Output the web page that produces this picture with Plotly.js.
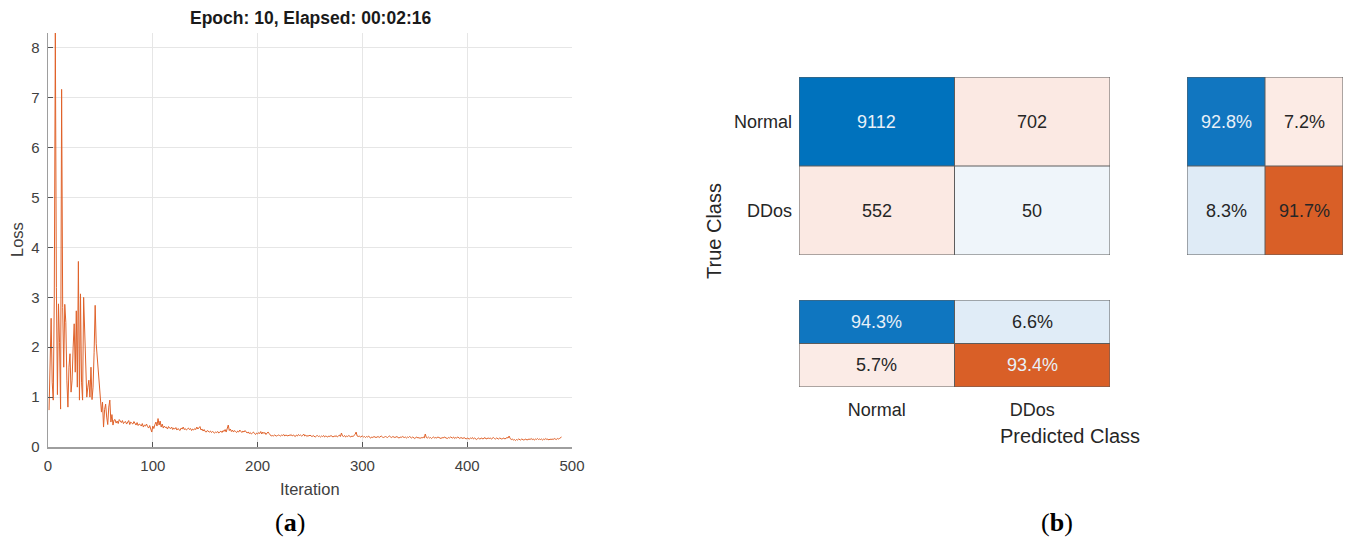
<!DOCTYPE html>
<html>
<head>
<meta charset="utf-8">
<script src="https://cdn.plot.ly/plotly-3.0.1.min.js"></script>
<style>html,body{margin:0;padding:0;background:#fff;}#chart{width:1346px;height:540px;}</style>
</head>
<body>
<div id="chart"></div>
<script>
// ---------- DATA ----------
const trainTitle = 'Epoch: 10, Elapsed: 00:02:16';
const xTicks = [0, 100, 200, 300, 400, 500];
const yTicks = [0, 1, 2, 3, 4, 5, 6, 7, 8];
// training loss, one value per iteration starting at iteration 1
const loss = [
0.74,1.9,2.58,1.3,0.94,3.0,8.3,3.2,1.05,2.87,
2.1,0.76,7.17,2.8,1.6,2.86,2.5,1.34,0.8,1.6,
1.87,1.1,1.34,2.0,2.47,1.5,2.73,1.2,3.72,0.94,
3.07,1.3,0.94,3.0,2.2,1.6,1.0,1.2,1.34,1.0,
1.6,0.95,1.2,1.9,2.84,2.07,1.8,1.47,1.2,1.03,
0.7,0.9,0.4,0.75,0.86,0.6,0.45,0.8,0.94,0.5,
0.65,0.44,0.54,0.55,0.48,0.52,0.47,0.55,0.52,0.49,
0.53,0.47,0.5,0.51,0.46,0.49,0.53,0.45,0.5,0.48,
0.46,0.51,0.47,0.44,0.49,0.43,0.46,0.45,0.42,0.47,
0.4,0.44,0.42,0.46,0.41,0.38,0.43,0.35,0.3,0.42,
0.37,0.45,0.5,0.42,0.57,0.44,0.52,0.4,0.46,0.38,
0.42,0.39,0.4,0.36,0.41,0.38,0.37,0.4,0.35,0.38,
0.36,0.39,0.34,0.37,0.35,0.33,0.38,0.36,0.4,0.35,
0.37,0.34,0.36,0.38,0.35,0.37,0.33,0.36,0.34,0.37,
0.35,0.4,0.36,0.38,0.41,0.34,0.36,0.32,0.35,0.31,
0.3,0.33,0.31,0.3,0.32,0.29,0.31,0.3,0.28,0.3,
0.29,0.31,0.28,0.3,0.32,0.29,0.33,0.31,0.35,0.3,
0.38,0.44,0.33,0.36,0.31,0.34,0.3,0.33,0.31,0.29,
0.32,0.3,0.34,0.31,0.29,0.32,0.3,0.33,0.31,0.28,
0.3,0.27,0.29,0.26,0.28,0.3,0.27,0.25,0.28,0.26,
0.29,0.27,0.31,0.26,0.3,0.27,0.29,0.25,0.28,0.3,
0.27,0.24,0.22,0.23,0.22,0.24,0.23,0.22,0.23,0.24,
0.23,0.22,0.24,0.23,0.25,0.22,0.24,0.23,0.22,0.24,
0.23,0.25,0.22,0.24,0.23,0.21,0.24,0.22,0.25,0.23,
0.24,0.22,0.23,0.26,0.22,0.24,0.21,0.23,0.22,0.24,
0.22,0.21,0.23,0.22,0.2,0.22,0.23,0.21,0.22,0.2,
0.22,0.21,0.23,0.2,0.22,0.21,0.2,0.22,0.21,0.23,
0.21,0.2,0.22,0.21,0.23,0.2,0.22,0.24,0.21,0.28,
0.22,0.21,0.23,0.2,0.22,0.21,0.23,0.22,0.2,0.22,
0.21,0.23,0.25,0.3,0.22,0.21,0.22,0.2,0.21,0.22,
0.2,0.21,0.19,0.21,0.2,0.22,0.19,0.18,0.2,0.19,
0.21,0.2,0.19,0.2,0.21,0.19,0.2,0.22,0.2,0.19,
0.2,0.21,0.2,0.19,0.21,0.22,0.2,0.19,0.21,0.2,
0.19,0.2,0.21,0.19,0.18,0.2,0.19,0.21,0.2,0.19,
0.2,0.18,0.2,0.19,0.21,0.19,0.18,0.2,0.19,0.17,
0.19,0.2,0.18,0.19,0.17,0.19,0.18,0.2,0.18,0.26,
0.19,0.18,0.2,0.18,0.19,0.17,0.19,0.2,0.18,0.19,
0.18,0.2,0.19,0.18,0.17,0.19,0.18,0.2,0.19,0.18,
0.17,0.19,0.18,0.2,0.19,0.18,0.2,0.17,0.19,0.18,
0.2,0.18,0.17,0.19,0.18,0.17,0.19,0.18,0.16,0.18,
0.17,0.16,0.18,0.17,0.19,0.16,0.18,0.17,0.15,0.17,
0.18,0.16,0.17,0.18,0.16,0.17,0.19,0.16,0.17,0.18,
0.17,0.18,0.16,0.17,0.19,0.17,0.16,0.18,0.17,0.16,
0.18,0.17,0.16,0.17,0.18,0.16,0.17,0.19,0.18,0.22,
0.17,0.15,0.16,0.14,0.15,0.13,0.15,0.14,0.16,0.15,
0.14,0.16,0.15,0.14,0.15,0.16,0.14,0.15,0.16,0.15,
0.17,0.15,0.16,0.14,0.16,0.15,0.17,0.15,0.16,0.15,
0.16,0.14,0.16,0.15,0.17,0.15,0.16,0.14,0.16,0.15,
0.16,0.15,0.17,0.16,0.15,0.17,0.16,0.17,0.18,0.2
];

const classes = ['Normal', 'DDos'];
const counts = [[9112, 702], [552, 50]];      // rows: true class, cols: predicted class
const rowPct = [[92.8, 7.2], [8.3, 91.7]];    // row summary
const colPct = [[94.3, 6.6], [5.7, 93.4]];    // column summary
const trueLabel = 'True Class';
const predLabel = 'Predicted Class';

// ---------- STYLE ----------
const W = 1346, H = 540;
const FONT = 'Liberation Sans, Arial, Helvetica, sans-serif';
const TXT = '#262626';
const LIGHT_TXT = '#e8f0f8';
const countColors = [['#0072BD', '#FBE9E3'], ['#FBE9E3', '#EFF5FA']];
const rowColors   = [['#1176C0', '#FCEBE5'], ['#DFEBF6', '#D95F27']];
const colColors   = [['#0F76C0', '#E0ECF7'], ['#FBEBE6', '#D95F27']];
const rowTextDark = [[false, true], [true, true]];
const countTextDark = [[false, true], [true, true]];
const colTextDark = [[false, true], [true, false]];

const px = x => x / W;
const py = y => 1 - y / H;

// ---------- TRACES ----------
const traces = [];
traces.push({
  type: 'scatter', mode: 'lines',
  x0: 1, dx: 1, y: loss,
  line: {color: '#E0622A', width: 1},
  xaxis: 'x', yaxis: 'y', hoverinfo: 'skip'
});

function flatScale(colors) {
  const flat = [colors[0][0], colors[0][1], colors[1][0], colors[1][1]];
  return flat.map((c, i) => [i / 3, c]);
}
const idx = [[0, 1], [2, 3]];
function addHeat(colors, xa, ya) {
  traces.push({
    type: 'heatmap', z: idx, x: [0, 1], y: [0, 1],
    colorscale: flatScale(colors), zmin: 0, zmax: 3,
    showscale: false, xaxis: xa, yaxis: ya, hoverinfo: 'skip'
  });
}
addHeat(countColors, 'x2', 'y2');
addHeat(rowColors, 'x3', 'y3');
addHeat(colColors, 'x4', 'y4');

// ---------- ANNOTATIONS ----------
const annotations = [];
function cellText(vals, fmt, dark, xr, yr) {
  for (let r = 0; r < 2; r++) for (let c = 0; c < 2; c++) {
    annotations.push({
      xref: xr, yref: yr, x: c, y: r, text: fmt(vals[r][c]), showarrow: false,
      xanchor: 'center', yanchor: 'middle',
      font: {family: FONT, size: 18, color: dark[r][c] ? TXT : LIGHT_TXT}
    });
  }
}
cellText(counts, v => String(v), countTextDark, 'x2', 'y2');
cellText(rowPct, v => v.toFixed(1) + '%', rowTextDark, 'x3', 'y3');
cellText(colPct, v => v.toFixed(1) + '%', colTextDark, 'x4', 'y4');

function paperText(x, y, text, font, angle) {
  annotations.push({xref: 'paper', yref: 'paper', x: px(x), y: py(y), text: text,
    xanchor: 'center', yanchor: 'middle', showarrow: false, textangle: angle || 0, font: font});
}
paperText(310, 18, '<b>' + trainTitle + '</b>', {family: FONT, size: 17.5, color: '#1a1a1a'});
paperText(310, 489, 'Iteration', {family: FONT, size: 16.5, color: '#404040'});
paperText(17, 240, 'Loss', {family: FONT, size: 16.5, color: '#404040'}, -90);
paperText(714, 231, trueLabel, {family: FONT, size: 20, color: TXT}, -90);
paperText(1070, 436, predLabel, {family: FONT, size: 20, color: TXT});
paperText(290, 522, '(<b>a</b>)', {family: 'Liberation Serif, Times New Roman, serif', size: 26, color: '#000'});
paperText(1057, 522, '(<b>b</b>)', {family: 'Liberation Serif, Times New Roman, serif', size: 26, color: '#000'});

// ---------- SHAPES (cell borders) ----------
const shapes = [];
function borders(xr, yr) {
  const ln = {color: '#5c5c5c', width: 1};
  shapes.push({type: 'rect', xref: xr, yref: yr, x0: -0.5, x1: 1.5, y0: -0.5, y1: 1.5, line: ln});
  shapes.push({type: 'line', xref: xr, yref: yr, x0: 0.5, x1: 0.5, y0: -0.5, y1: 1.5, line: ln});
  shapes.push({type: 'line', xref: xr, yref: yr, x0: -0.5, x1: 1.5, y0: 0.5, y1: 0.5, line: ln});
}
borders('x2', 'y2'); borders('x3', 'y3'); borders('x4', 'y4');

// ---------- LAYOUT ----------
const hidden = {showgrid: false, zeroline: false, showticklabels: false, ticks: '', showline: false, fixedrange: true};
const layout = {
  width: W, height: H,
  margin: {l: 0, r: 0, t: 0, b: 0},
  paper_bgcolor: '#fff', plot_bgcolor: 'rgba(0,0,0,0)',
  showlegend: false,
  font: {family: FONT, color: TXT},
  xaxis: {
    domain: [px(48), px(572)], range: [0, 500], anchor: 'y',
    tickvals: xTicks, ticks: 'inside', ticklen: 5, tickcolor: '#555',
    showgrid: true, gridcolor: '#e6e6e6', zeroline: false,
    showline: true, linecolor: '#9e9e9e', linewidth: 1.5,
    tickfont: {family: FONT, size: 15, color: '#404040'}, ticklabelstandoff: 4
  },
  yaxis: {
    domain: [py(447), py(33)], range: [0, 8.3], anchor: 'x',
    tickvals: yTicks, ticks: 'inside', ticklen: 5, tickcolor: '#555',
    showgrid: true, gridcolor: '#e6e6e6', zeroline: false,
    showline: true, linecolor: '#9e9e9e', linewidth: 1.5,
    tickfont: {family: FONT, size: 15, color: '#404040'}, ticklabelstandoff: 4
  },
  xaxis2: Object.assign({}, hidden, {domain: [px(799), px(1110)], range: [-0.5, 1.5], anchor: 'y2'}),
  yaxis2: Object.assign({}, hidden, {domain: [py(255), py(77)], range: [1.5, -0.5], anchor: 'x2',
    showticklabels: true, tickvals: [0, 1], ticktext: classes, ticklabelstandoff: 6,
    tickfont: {family: FONT, size: 18, color: TXT}}),
  xaxis3: Object.assign({}, hidden, {domain: [px(1187), px(1343)], range: [-0.5, 1.5], anchor: 'y3'}),
  yaxis3: Object.assign({}, hidden, {domain: [py(255), py(77)], range: [1.5, -0.5], anchor: 'x3'}),
  xaxis4: Object.assign({}, hidden, {domain: [px(799), px(1110)], range: [-0.5, 1.5], anchor: 'y4',
    showticklabels: true, tickvals: [0, 1], ticktext: classes, side: 'bottom', ticklabelstandoff: 10,
    tickfont: {family: FONT, size: 18, color: TXT}}),
  yaxis4: Object.assign({}, hidden, {domain: [py(387), py(300)], range: [1.5, -0.5], anchor: 'x4'}),
  annotations: annotations,
  shapes: shapes
};

Plotly.newPlot('chart', traces, layout, {staticPlot: true, displayModeBar: false});
</script>
</body>
</html>
